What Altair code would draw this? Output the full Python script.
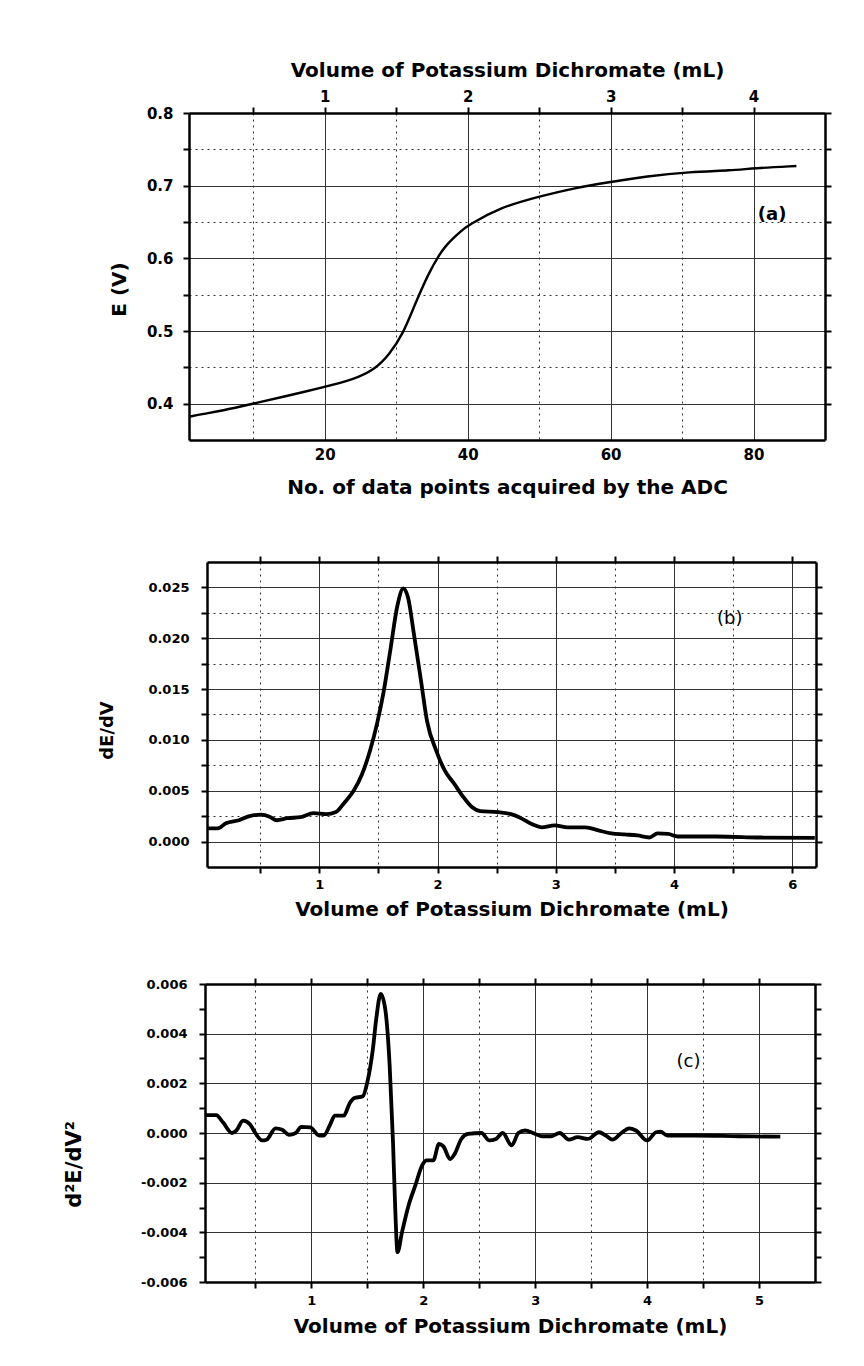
import altair as alt
import pandas as pd

# ---------------- data ----------------
# Panel (a): potential vs. number of ADC data points
a_points = [1, 3, 5.5, 10, 14, 20, 24, 27, 29, 31, 32.5, 34.5, 36, 37, 38, 39, 40, 44.5, 50, 55, 60, 65, 71, 77, 80, 86]
a_E = [0.382, 0.386, 0.390, 0.400, 0.409, 0.423, 0.433, 0.447, 0.467, 0.497, 0.534, 0.579, 0.605, 0.618,
       0.628, 0.637, 0.645, 0.670, 0.685, 0.697, 0.705, 0.713, 0.719, 0.721, 0.724, 0.727]

# Panel (b): first derivative
b_vol = [0.05, 0.14, 0.21, 0.32, 0.41, 0.51, 0.58, 0.64, 0.73, 0.84, 0.95, 1.06, 1.14, 1.21, 1.29, 1.36, 1.43,
         1.49, 1.54, 1.60, 1.66, 1.71, 1.75, 1.80, 1.86, 1.91, 1.99, 2.06, 2.14, 2.21, 2.29, 2.36, 2.51, 2.62,
         2.69, 2.80, 2.88, 2.99, 3.10, 3.25, 3.36, 3.47, 3.58, 3.69, 3.79, 3.86, 3.95, 4.03, 4.36, 4.73, 5.19]
b_dEdV = [0.0013, 0.0013, 0.0018, 0.0021, 0.0025, 0.00265, 0.00245, 0.0021, 0.0023, 0.0024, 0.0028, 0.0027,
          0.0029, 0.0038, 0.0050, 0.0066, 0.0090, 0.0117, 0.0145, 0.0188, 0.0232, 0.0249, 0.0240, 0.0204,
          0.0158, 0.0119, 0.0089, 0.0070, 0.0057, 0.0045, 0.0034, 0.0030, 0.0029, 0.0027, 0.0024, 0.0017,
          0.0014, 0.0016, 0.0014, 0.0014, 0.0011, 0.0008, 0.0007, 0.0006, 0.0004, 0.0008, 0.00075, 0.0005,
          0.0005, 0.0004, 0.00036]

# Panel (c): second derivative
c_vol = [0.055, 0.15, 0.21, 0.29, 0.33, 0.39, 0.45, 0.50, 0.56, 0.60, 0.68, 0.74, 0.80, 0.86, 0.91, 0.99,
         1.07, 1.11, 1.17, 1.21, 1.29, 1.34, 1.38, 1.46, 1.50, 1.55, 1.58, 1.62, 1.66, 1.70, 1.73, 1.75, 1.77,
         1.81, 1.87, 1.93, 1.99, 2.03, 2.09, 2.14, 2.18, 2.24, 2.28, 2.34, 2.40, 2.52, 2.59, 2.65, 2.71, 2.79,
         2.85, 2.91, 2.98, 3.06, 3.14, 3.22, 3.30, 3.38, 3.47, 3.57, 3.63, 3.69, 3.77, 3.84, 3.90, 4.00, 4.08,
         4.12, 4.18, 4.43, 4.82, 5.19]
c_d2E = [0.00072, 0.00072, 0.00043, 0.0, 0.0001, 0.0005, 0.00036, 0.0, -0.0003, -0.00027, 0.00019, 0.00013,
         -0.00007, 0.0, 0.00025, 0.00023, -0.0001, -0.0001, 0.00036, 0.0007, 0.0007, 0.00117, 0.0014, 0.00148,
         0.00204, 0.00338, 0.0046, 0.0056, 0.005, 0.0027, -0.0004, -0.0031, -0.0048, -0.004, -0.0029, -0.0021,
         -0.0013, -0.0011, -0.0011, -0.00044, -0.00054, -0.00105, -0.00085, -0.00024, -0.00004, 0.0, -0.0003,
         -0.00024, 0.0, -0.0005, 0.0, 0.0001, 0.0, -0.00013, -0.00013, 0.0, -0.00027, -0.00017, -0.00024,
         0.00003, -0.0001, -0.00027, 0.0, 0.00019, 0.0001, -0.0003, 0.00003, 0.00005, -0.0001, -0.0001,
         -0.00013, -0.00015]

# tick values
a_n_ticks = [10, 20, 30, 40, 50, 60, 70, 80]
a_vol_ticks = [0.5, 1, 1.5, 2, 2.5, 3, 3.5, 4]
a_E_ticks = [0.4, 0.45, 0.5, 0.55, 0.6, 0.65, 0.7, 0.75, 0.8]
vol_ticks = [0.5, 1, 1.5, 2, 2.5, 3, 3.5, 4, 4.5, 5]
b_y_ticks = [0.0, 0.0025, 0.005, 0.0075, 0.01, 0.0125, 0.015, 0.0175, 0.02, 0.0225, 0.025]
c_y_ticks = [-0.006, -0.005, -0.004, -0.003, -0.002, -0.001, 0.0, 0.001, 0.002, 0.003, 0.004, 0.005, 0.006]

vol_title = "Volume of Potassium Dichromate (mL)"

FONT = "DejaVu Sans"
GRID = "#333333"
DOT = [2, 4]


def dash(test):
    return {"condition": {"test": test, "value": DOT}, "value": []}


df_a = pd.DataFrame({"n": a_points, "E": a_E})
df_b = pd.DataFrame({"v": b_vol, "d": b_dEdV})
df_c = pd.DataFrame({"v": c_vol, "d": c_d2E})

# ---------------- panel (a) ----------------
A_W, A_H = 636, 327
a_x = alt.Scale(domain=[1, 90], nice=False, zero=False)
a_v = alt.Scale(domain=[0.05, 4.5], nice=False, zero=False)
a_y = alt.Scale(domain=[0.35, 0.8], nice=False, zero=False)

a_line = alt.Chart(df_a).mark_line(color="black", strokeWidth=2.4, interpolate="basis").encode(
    x=alt.X("n:Q", scale=a_x, axis=alt.Axis(
        orient="bottom", values=a_n_ticks, ticks=False, labelPadding=7, labelFontSize=15,
        labelExpr="datum.value % 20 === 0 ? format(datum.value, 'd') : ''",
        grid=True, gridColor=GRID, gridWidth=1, gridDash=dash("datum.value % 20 !== 0"),
        title="No. of data points acquired by the ADC", titleFontSize=20,
        titleY=47, titleBaseline="middle")),
    y=alt.Y("E:Q", scale=a_y, axis=alt.Axis(
        orient="left", values=a_E_ticks, tickSize=6, labelPadding=10, labelFontSize=15,
        labelExpr="round(datum.value * 100) % 10 === 0 ? format(datum.value, '.1f') : ''",
        grid=True, gridColor=GRID, gridWidth=1, gridDash=dash("round(datum.value * 100) % 10 !== 0"),
        title="E (V)", titleFontSize=20, titleX=-70, titleY=176, titleBaseline="middle")),
)

a_aux = alt.Chart(df_a).transform_calculate(vol="datum.n / 20").mark_line(opacity=0).encode(
    x=alt.X("vol:Q", scale=a_v, axis=alt.Axis(
        orient="top", values=a_vol_ticks, tickSize=6, labelPadding=3, labelFontSize=15,
        labelExpr="datum.value % 1 === 0 ? format(datum.value, 'd') : ''", grid=False,
        title=vol_title, titleFontSize=20, titleY=-43, titleBaseline="middle")),
    y=alt.Y("E:Q", scale=a_y, axis=alt.Axis(
        orient="right", values=a_E_ticks, tickSize=6, labels=False, grid=False, title=None)),
)

a_text = alt.Chart(pd.DataFrame({"n": [82.6], "E": [0.66], "t": ["(a)"]})).mark_text(
    font=FONT, fontWeight="bold", fontSize=18, color="black").encode(
    x=alt.X("n:Q", scale=a_x, axis=None), y=alt.Y("E:Q", scale=a_y, axis=None), text="t:N")

panel_a = alt.layer(a_line, a_aux, a_text).resolve_scale(x="independent").resolve_axis(
    x="independent", y="independent").properties(width=A_W, height=A_H)

# ---------------- panel (b) ----------------
B_W, B_H, B_OFF = 627, 305, 18
b_x = alt.Scale(domain=[0.05, 5.2], range=[B_OFF, B_W], nice=False, zero=False)
b_y = alt.Scale(domain=[-0.0025, 0.0275], nice=False, zero=False)

b_line = alt.Chart(df_b).mark_line(color="black", strokeWidth=3.8, interpolate="monotone").encode(
    x=alt.X("v:Q", scale=b_x, axis=alt.Axis(
        orient="bottom", values=vol_ticks, tickSize=6, labelPadding=5, labelFontSize=13,
        labelExpr="datum.value % 1 === 0 ? (datum.value === 5 ? '6' : format(datum.value, 'd')) : ''",
        grid=True, gridColor=GRID, gridWidth=1, gridDash=dash("datum.value % 1 !== 0"),
        title=vol_title, titleFontSize=20, titleY=42, titleBaseline="middle")),
    y=alt.Y("d:Q", scale=b_y, axis=alt.Axis(
        orient="left", offset=-B_OFF, values=b_y_ticks, tickSize=6, labelPadding=12, labelFontSize=13,
        labelExpr="abs(round(datum.value * 400)) % 2 === 0 ? format(datum.value, '.3f') : ''",
        grid=True, gridColor=GRID, gridWidth=1, gridDash=dash("abs(round(datum.value * 400)) % 2 === 1"),
        title="dE/dV", titleFontSize=18, titleX=-100, titleY=168, titleBaseline="middle")),
)

b_aux = alt.Chart(df_b).mark_line(opacity=0).encode(
    x=alt.X("v:Q", scale=b_x, axis=alt.Axis(
        orient="top", values=vol_ticks, tickSize=6, labels=False, grid=False, title=None)),
    y=alt.Y("d:Q", scale=b_y, axis=alt.Axis(
        orient="right", values=b_y_ticks, tickSize=6, labels=False, grid=False, title=None)),
)

b_text = alt.Chart(pd.DataFrame({"v": [4.47], "d": [0.0219], "t": ["(b)"]})).mark_text(
    font=FONT, fontSize=18, color="black").encode(
    x=alt.X("v:Q", scale=b_x, axis=None), y=alt.Y("d:Q", scale=b_y, axis=None), text="t:N")

panel_b = alt.layer(b_line, b_aux, b_text).resolve_axis(
    x="independent", y="independent").properties(width=B_W, height=B_H)

# ---------------- panel (c) ----------------
C_W, C_H, C_OFF = 626, 298, 16
c_x = alt.Scale(domain=[0.05, 5.5], range=[C_OFF, C_W], nice=False, zero=False)
c_y = alt.Scale(domain=[-0.006, 0.006], nice=False, zero=False)

c_line = alt.Chart(df_c).mark_line(color="black", strokeWidth=3.8, interpolate="monotone").encode(
    x=alt.X("v:Q", scale=c_x, axis=alt.Axis(
        orient="bottom", values=vol_ticks, tickSize=6, labelPadding=6, labelFontSize=13,
        labelExpr="datum.value % 1 === 0 ? format(datum.value, 'd') : ''",
        grid=True, gridColor=GRID, gridWidth=1, gridDash=dash("datum.value % 1 !== 0"),
        title=vol_title, titleFontSize=20, titleY=44, titleBaseline="middle")),
    y=alt.Y("d:Q", scale=c_y, axis=alt.Axis(
        orient="left", offset=-C_OFF, values=c_y_ticks, tickSize=6, labelPadding=12, labelFontSize=13,
        labelExpr="abs(round(datum.value * 1000)) % 2 === 0 ? replace(format(datum.value, '.3f'), '\u2212', '-') : ''",
        grid=True, gridColor=GRID, gridWidth=1,
        gridOpacity={"condition": {"test": "abs(round(datum.value * 1000)) % 2 === 1", "value": 0}, "value": 1},
        title="d\u00b2E/dV\u00b2", titleFontSize=21, titleX=-131, titleY=180, titleBaseline="middle")),
)

c_aux = alt.Chart(df_c).mark_line(opacity=0).encode(
    x=alt.X("v:Q", scale=c_x, axis=alt.Axis(
        orient="top", values=vol_ticks, tickSize=6, labels=False, grid=False, title=None)),
    y=alt.Y("d:Q", scale=c_y, axis=alt.Axis(
        orient="right", values=c_y_ticks, tickSize=6, labels=False, grid=False, title=None)),
)

c_text = alt.Chart(pd.DataFrame({"v": [4.37], "d": [0.00285], "t": ["(c)"]})).mark_text(
    font=FONT, fontSize=18, color="black").encode(
    x=alt.X("v:Q", scale=c_x, axis=None), y=alt.Y("d:Q", scale=c_y, axis=None), text="t:N")

panel_c = alt.layer(c_line, c_aux, c_text).resolve_axis(
    x="independent", y="independent").properties(width=C_W, height=C_H)

chart = alt.vconcat(panel_a, panel_b, panel_c, spacing=58).properties(
    padding={"left": 55, "top": 52, "right": 5, "bottom": 5}
).configure_view(strokeWidth=0).configure_axis(
    labelFont=FONT, titleFont=FONT, labelFontWeight="bold", titleFontWeight="bold",
    labelColor="black", titleColor="black", domainColor="black", tickColor="black",
    domainWidth=2.5, tickWidth=2
)

chart.save("out.html", embed_options={"renderer": "svg", "actions": False})
